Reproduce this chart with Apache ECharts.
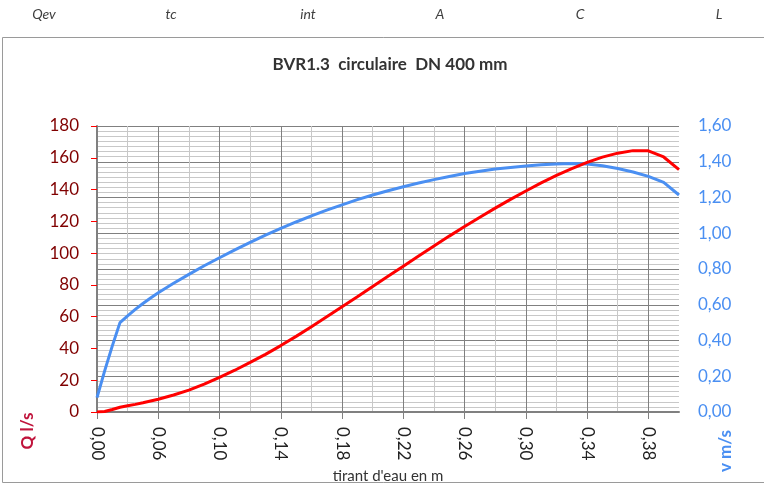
<!DOCTYPE html>
<html><head><meta charset="utf-8">
<script src="https://cdn.jsdelivr.net/npm/echarts@6/dist/echarts.min.js"></script>
<style>html,body{margin:0;padding:0;background:#fff}#c{width:764px;height:486px}</style>
</head><body><div id="c"></div>
<script>
// spreadsheet column headers above the chart
const headerLabels = ['Qev', 'tc', 'int', 'A', 'C', 'L'];
const headerX = [44, 171, 308, 440, 580, 719];

// first (compressed) stretch of the category axis, before 0,06
const firstH = [0.000, 0.0075, 0.015, 0.0225, 0.030, 0.0375, 0.045, 0.0525];
const firstQ = [0, 0.3, 1.6, 3.0, 3.9, 4.8, 5.8, 6.9];
const firstV = [0.08, 0.23, 0.37, 0.50, 0.538, 0.574, 0.607, 0.638];

// tirant d'eau (m) from 0,06 to 0,40
const mainH = [0.06,0.07,0.08,0.09,0.10,0.11,0.12,0.13,0.14,0.15,0.16,0.17,0.18,0.19,0.20,0.21,0.22,0.23,0.24,0.25,0.26,0.27,0.28,0.29,0.30,0.31,0.32,0.33,0.34,0.35,0.36,0.37,0.38,0.39,0.40];
// débit Q (l/s)
const mainQ = [8.0,10.7,13.8,17.5,21.8,26.3,31.2,36.3,41.8,47.6,53.6,59.9,66.3,72.6,79.0,85.4,91.8,98.2,104.5,110.7,116.7,122.6,128.3,133.8,139.1,144.2,148.9,153.2,157.1,160.4,162.9,164.5,164.4,160.5,152.6];
// vitesse v (m/s)
const mainV = [0.667,0.72,0.77,0.818,0.863,0.907,0.949,0.989,1.027,1.063,1.097,1.129,1.159,1.188,1.214,1.238,1.26,1.281,1.30,1.318,1.334,1.347,1.359,1.368,1.376,1.383,1.388,1.39,1.387,1.378,1.362,1.343,1.318,1.285,1.214];

const fmt = v => v.toFixed(2).replace('.', ',');

// build category list (half-steps between the 0,01 rows carry no data)
const cats = firstH.map(fmt);
const qData = firstQ.slice();
const vData = firstV.slice();
mainH.forEach((h, i) => {
  cats.push(fmt(h)); qData.push(mainQ[i]); vData.push(mainV[i]);
  if (i < mainH.length - 1) { cats.push(fmt(h + 0.005) + ' '); qData.push(null); vData.push(null); }
});
const lastIdx = cats.length - 1;

const FONT = 'Lato';
const chart = echarts.init(document.getElementById('c'), null, {renderer: 'canvas'});
chart.setOption({
  animation: false,
  backgroundColor: '#fff',
  title: {
    text: 'BVR1.3  circulaire  DN 400 mm', left: 385, top: 51, textAlign: 'center',
    textStyle: {fontFamily: FONT, fontSize: 17, fontWeight: 'bold', color: '#333'}
  },
  graphic: [
    {type: 'rect', shape: {x: 2.5, y: 37.5, width: 800, height: 445}, style: {fill: 'none', stroke: '#9a9a9a', lineWidth: 1}, silent: true},
    ...headerLabels.map((t, i) => ({
      type: 'text', x: headerX[i], y: 14,
      style: {text: t, font: 'italic 14px ' + FONT, fill: '#404040', textAlign: 'center', textVerticalAlign: 'middle'}
    })),
    {type: 'text', x: 28, y: 431, rotation: Math.PI / 2,
     style: {text: 'Q l/s', font: 'bold 17px ' + FONT, fill: '#c0143c', textAlign: 'center', textVerticalAlign: 'middle'}},
    {type: 'text', x: 726, y: 451, rotation: Math.PI / 2,
     style: {text: 'v m/s', font: 'bold 17px ' + FONT, fill: '#4a8ff2', textAlign: 'center', textVerticalAlign: 'middle'}}
  ],
  grid: {left: 97, right: 85, top: 126, bottom: 74, outerBoundsMode: 'none', containLabel: false},
  xAxis: {
    type: 'category', data: cats, boundaryGap: false,
    name: "tirant d'eau en m", nameLocation: 'middle', nameGap: 56,
    nameTextStyle: {fontFamily: FONT, fontSize: 15, color: '#333'},
    axisLine: {lineStyle: {color: '#808080', width: 2}},
    axisTick: {interval: i => i % 8 === 0, length: 7, lineStyle: {color: '#808080'}},
    axisLabel: {interval: i => i % 8 === 0, rotate: -90, margin: 15, fontFamily: FONT, fontSize: 17, color: '#222'},
    splitLine: {show: true, interval: i => i % 4 === 0 && i > 0 && i < lastIdx,
      lineStyle: {color: ['#c8c8c8', '#808080'], width: 1}}
  },
  yAxis: [
    {
      type: 'value', min: 0, max: 180, interval: 20, position: 'left',
      axisLine: {show: true, lineStyle: {color: '#808080', width: 2}},
      axisTick: {show: true, length: 6, lineStyle: {color: '#ff0000'}},
      axisLabel: {fontFamily: FONT, fontSize: 17, color: '#800000', margin: 18},
      splitLine: {show: false}
    },
    {
      type: 'value', min: 0, max: 1.6, interval: 0.2, position: 'right',
      axisLine: {show: false}, axisTick: {show: false},
      axisLabel: {fontFamily: FONT, fontSize: 17, color: '#4a8ff2', margin: 19, formatter: v => fmt(v)},
      splitLine: {show: true, lineStyle: {color: '#808080', width: 1}},
      minorTick: {show: false, splitNumber: 7},
      minorSplitLine: {show: true, lineStyle: {color: '#c8c8c8', width: 1}}
    }
  ],
  series: [
    {name: 'v', type: 'line', yAxisIndex: 1, data: vData, connectNulls: true, showSymbol: false,
     lineStyle: {color: '#4a8ff2', width: 3}, itemStyle: {color: '#4a8ff2'}},
    {name: 'Q', type: 'line', yAxisIndex: 0, data: qData, connectNulls: true, showSymbol: false,
     lineStyle: {color: '#ff0000', width: 3}, itemStyle: {color: '#ff0000'}}
  ]
});
</script></body></html>
